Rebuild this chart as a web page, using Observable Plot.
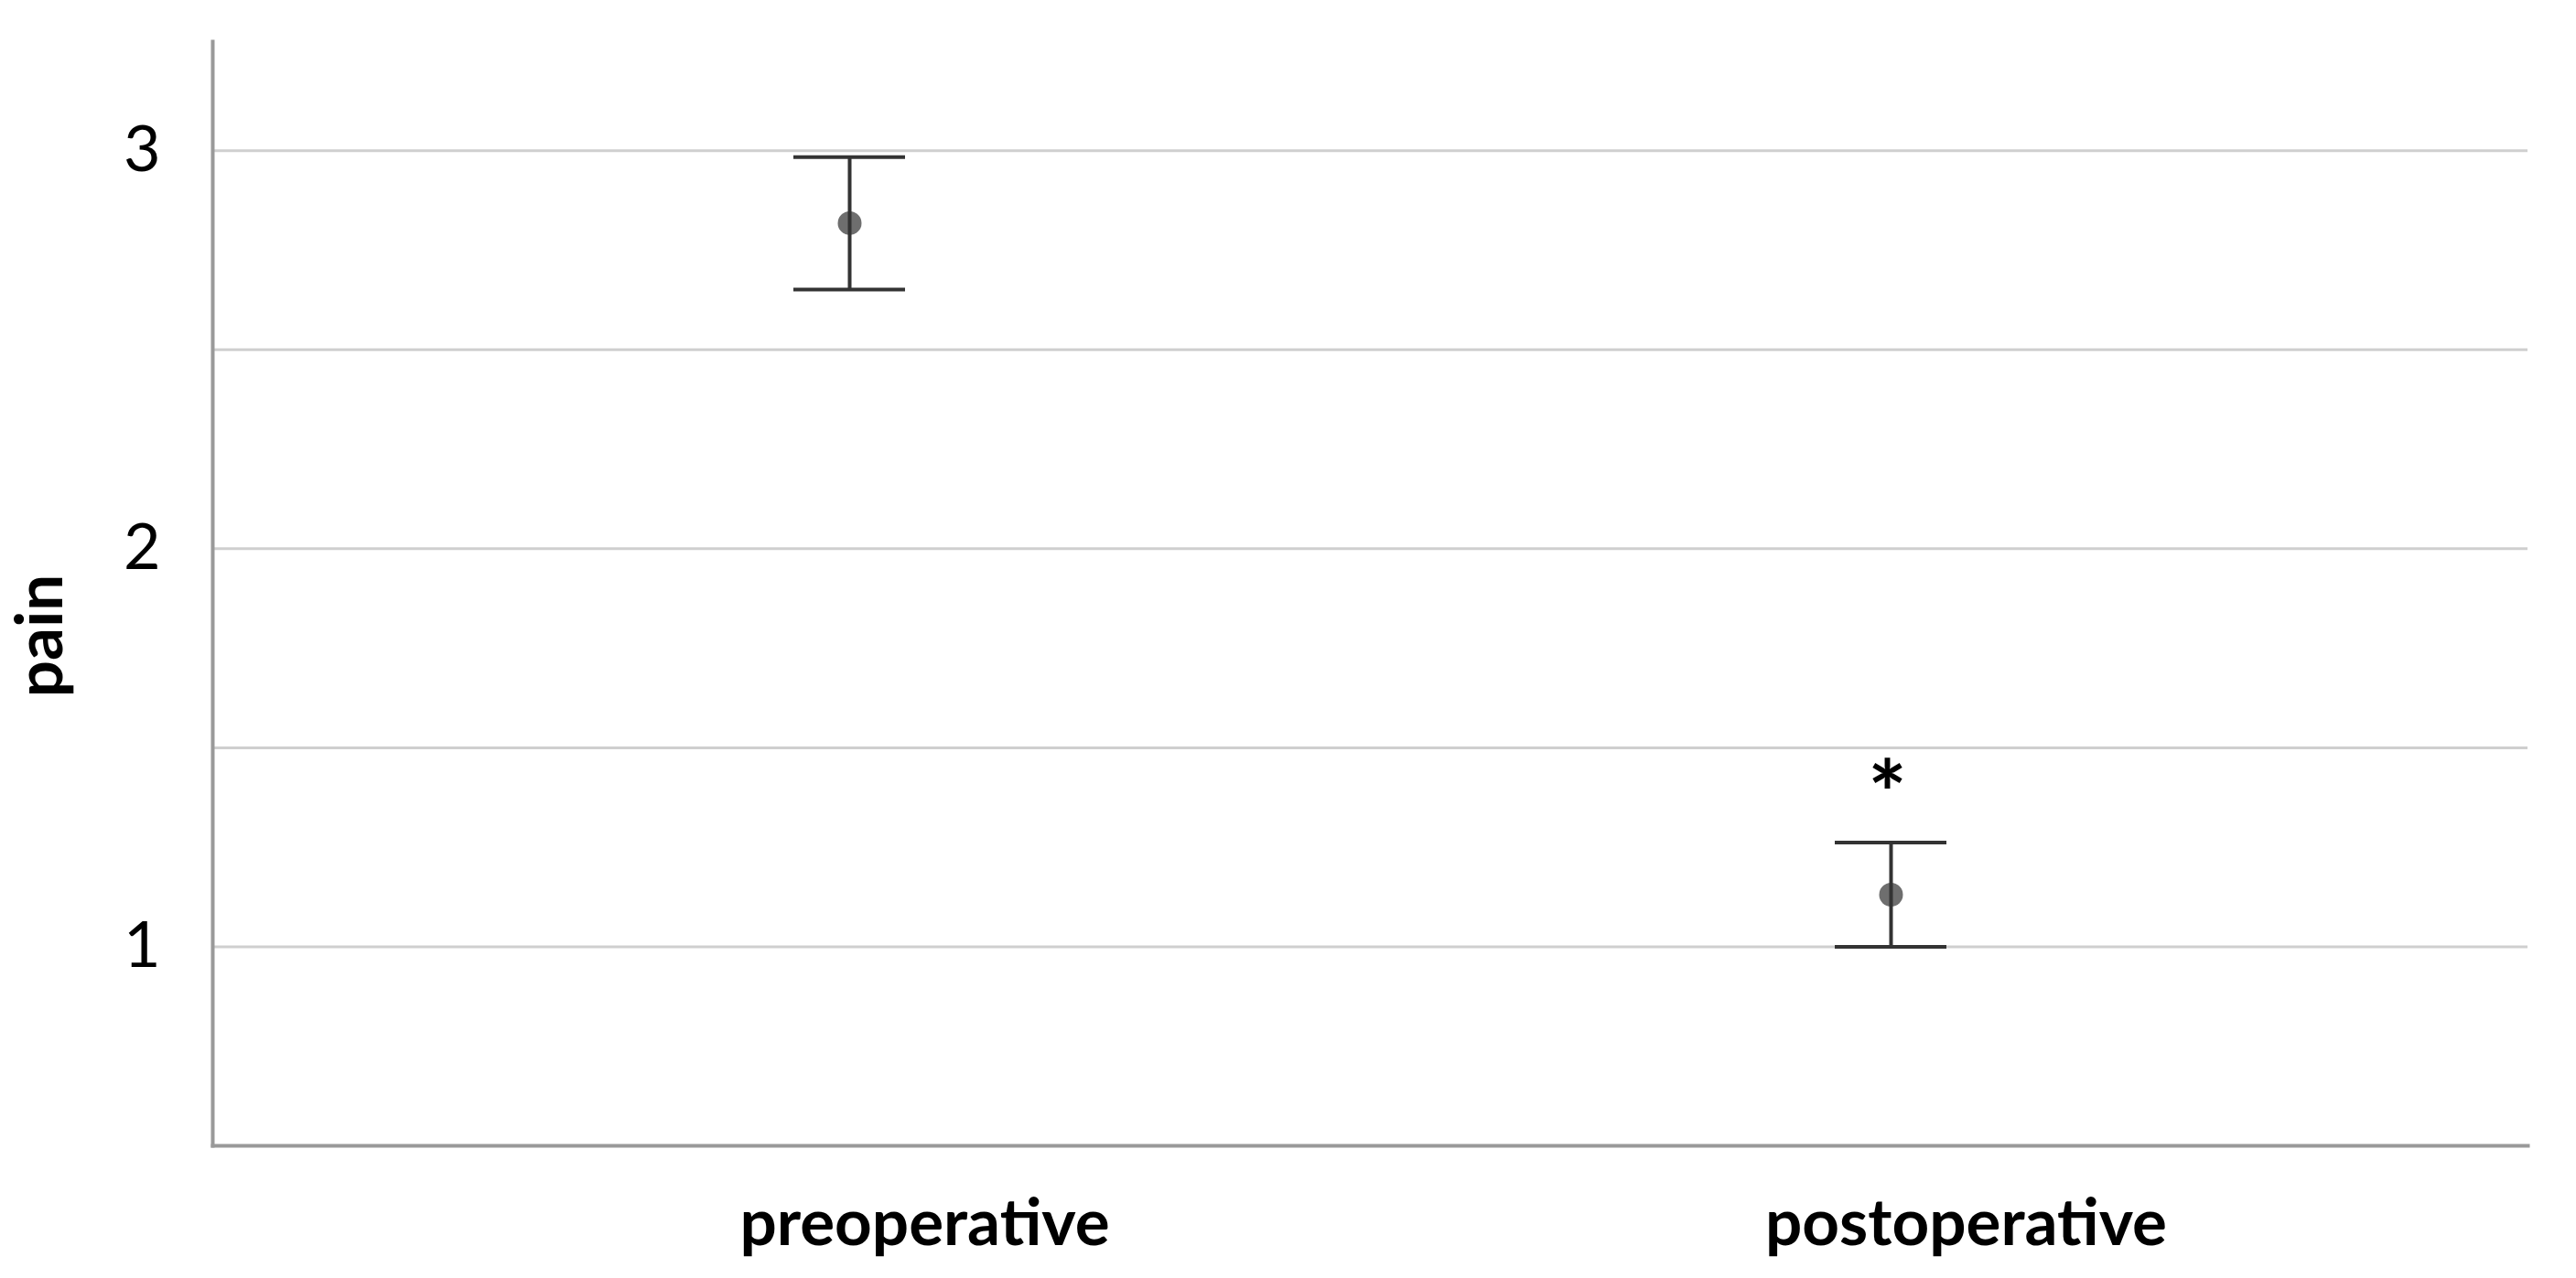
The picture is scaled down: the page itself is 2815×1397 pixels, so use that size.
<!DOCTYPE html>
<html>
<head>
<meta charset="utf-8">
<script src="https://cdn.jsdelivr.net/npm/d3@7"></script>
<script src="https://cdn.jsdelivr.net/npm/@observablehq/plot@0.6"></script>
<style>
  html, body { margin: 0; padding: 0; background: #fff; overflow: hidden; }
</style>
</head>
<body>
<div id="chart"></div>
<script>
const categories = ["preoperative", "postoperative"];
const means = [2.818, 1.131];
const lower = [2.651, 1.0];
const upper = [2.984, 1.262];
const markers = ["", "*"];
const yTickLabels = [1, 2, 3];
const gridValues = [1, 1.5, 2, 2.5, 3];
const yDomain = [0.5, 3.274];
const yLabel = "pain";

const data = categories.map((c, i) => ({
  cat: c, mean: means[i], lower: lower[i], upper: upper[i], marker: markers[i]
}));

const FONT = "Lato, 'Open Sans', sans-serif";

const chart = Plot.plot({
  width: 2815,
  height: 1397,
  marginLeft: 232,
  marginRight: 53,
  marginTop: 45,
  marginBottom: 145,
  style: { fontFamily: FONT, background: "#fff", color: "#000" },
  x: { type: "band", domain: categories, paddingInner: 0.893, paddingOuter: 0.558, axis: null },
  y: { domain: yDomain, axis: null },
  marks: [
    Plot.ruleY(gridValues, { stroke: "#cfcfcf", strokeWidth: 3 }),
    Plot.frame({ anchor: "left", stroke: "#999999", strokeWidth: 4 }),
    Plot.frame({ anchor: "bottom", stroke: "#999999", strokeWidth: 4 }),
    Plot.axisY({ ticks: yTickLabels, tickSize: 0, tickPadding: 57, fontSize: 70, tickFormat: d3.format("d"), label: null }),
    Plot.axisX({ tickSize: 0, tickPadding: 58, dx: 82, fontSize: 71, fontWeight: "bold", label: null }),
    Plot.text([yLabel], { frameAnchor: "left", textAnchor: "middle", rotate: -90, dx: -165, dy: 46, lineAnchor: "bottom", fontSize: 71, fontWeight: "bold", fill: "#000" }),
    Plot.dot(data, { x: "cat", y: "mean", r: 13, fill: "#6e6e6e", stroke: "none" }),
    Plot.ruleX(data, { x: "cat", y1: "lower", y2: "upper", stroke: "#333", strokeWidth: 4 }),
    Plot.tickY(data, { x: "cat", y: "upper", stroke: "#333", strokeWidth: 4 }),
    Plot.tickY(data, { x: "cat", y: "lower", stroke: "#333", strokeWidth: 4 }),
    Plot.text(data, { x: "cat", y: "upper", text: "marker", lineAnchor: "bottom", dy: -17, dx: -4, fontSize: 100, fontWeight: "bold", fill: "#000" })
  ]
});

document.getElementById("chart").appendChild(chart);
</script>
</body>
</html>
